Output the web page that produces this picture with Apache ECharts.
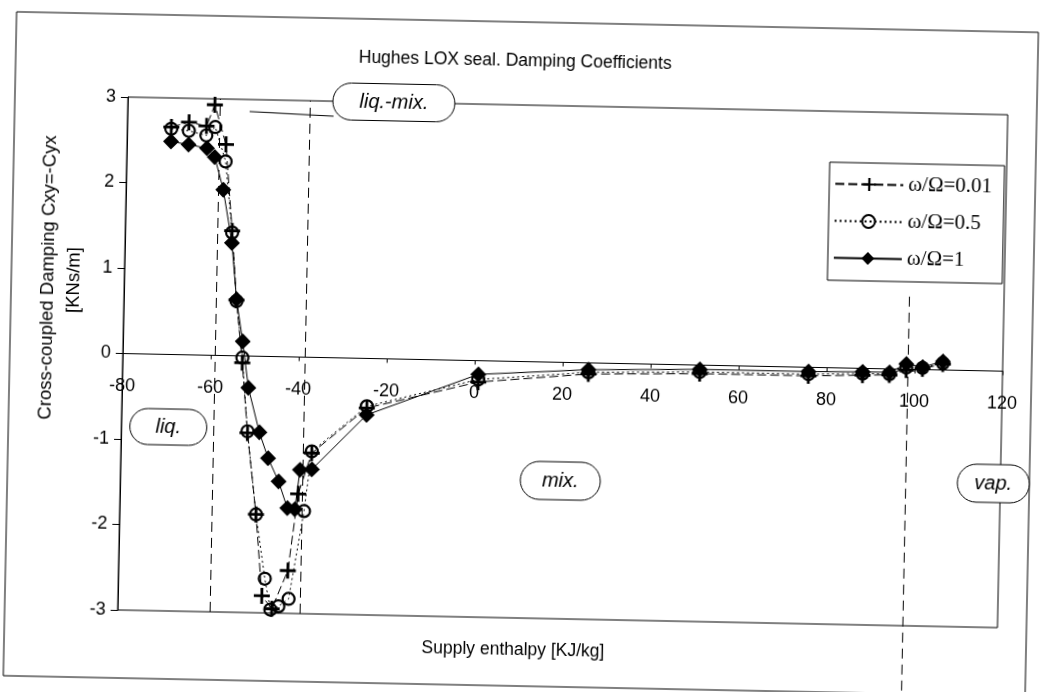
<!DOCTYPE html>
<html>
<head>
<meta charset="utf-8">
<script src="https://cdn.jsdelivr.net/npm/echarts@6.0.0/dist/echarts.min.js"></script>
<style>
  html, body { margin: 0; padding: 0; background: #fff; overflow: hidden; }
  /* the scanned figure is slightly tilted */
  #chart { width: 1040px; height: 692px; transform: rotate(1.15deg); transform-origin: 520px 346px; }
</style>
</head>
<body>
<div id="chart"></div>
<script>
// omega/Omega = 0.01
const enthalpy001 = [-70, -66, -62, -60.2, -57.5, -55.7, -54.4, -52.8, -51.3, -49, -47.3, -45, -41.5, -39.5, -36.6, -24.3, 0.9, 25.9, 51.2, 75.9, 88.2, 94.3, 98.1, 101.8, 106.4];
const cxy001 = [2.66, 2.72, 2.68, 2.93, 2.47, 1.46, 0.65, -0.08, -0.9, -1.85, -2.8, -2.95, -2.5, -1.6, -1.12, -0.58, -0.25, -0.13, -0.1, -0.1, -0.08, -0.07, -0.01, 0.01, 0.07];
// omega/Omega = 0.5
const enthalpy05 = [-70, -66, -62, -60, -57.5, -55.7, -54.4, -52.8, -51.3, -49, -46.7, -45.3, -43.5, -41.2, -38.1, -36.6, -24.3, 0.9, 25.9, 51.2, 75.9, 88.2, 94.3, 98.1, 101.8, 106.4];
const cxy05 = [2.64, 2.62, 2.57, 2.67, 2.27, 1.44, 0.64, -0.02, -0.88, -1.85, -2.6, -2.96, -2.92, -2.83, -1.8, -1.1, -0.56, -0.22, -0.11, -0.08, -0.08, -0.06, -0.06, 0.02, 0.02, 0.08];
// omega/Omega = 1
const enthalpy1 = [-70, -66, -61.8, -60, -57.9, -55.7, -54.4, -52.8, -51.3, -48.6, -46.5, -44, -41.9, -40.2, -39.2, -36.5, -24.3, 0.9, 25.9, 51.2, 75.9, 88.2, 94.3, 98.1, 101.8, 106.4];
const cxy1 = [2.49, 2.46, 2.42, 2.32, 1.94, 1.32, 0.66, 0.17, -0.37, -0.89, -1.19, -1.46, -1.77, -1.78, -1.32, -1.31, -0.66, -0.16, -0.08, -0.05, -0.05, -0.04, -0.04, 0.06, 0.03, 0.10];

const seriesNames = ['ω/Ω=0.01', 'ω/Ω=0.5', 'ω/Ω=1'];
const xTicks = [-80, 120, 20];   // min, max, step
const yTicks = [-3, 3, 1];
// phase boundaries drawn as dashed lines
const boundaryLiqMix = -59;
const boundaryMix = -38.5;
const boundaryVap = 98.5;
const vapLineTop = 0.85;
const vapLineBottom = -3.8;   // runs out below the plot box

function pairs(xs, ys) {
  return xs.map((x, i) => [x, ys[i]]);
}

const plusPath = 'path://M0,6.6H16V9.4H0Z M6.6,0H9.4V16H6.6Z';
const font = '"Liberation Sans", Arial, sans-serif';
const dash = [10, 6];

// grid box, the x axis sits on y = 0 in the middle of it
const gridTop = 105, gridBottom = 74, gridH = 692 - gridTop - gridBottom;

function bubble(cx, cy, w, h, label) {
  return {
    type: 'group',
    z: 50,
    children: [
      { type: 'rect', shape: { x: cx - w / 2, y: cy - h / 2, width: w, height: h, r: h / 2 },
        style: { fill: '#fff', stroke: '#000', lineWidth: 1 } },
      { type: 'text', x: cx, y: cy,
        style: { text: label, font: 'italic 20px ' + font, fill: '#000', align: 'center', verticalAlign: 'middle' } }
    ]
  };
}

let myChart = echarts.init(document.getElementById('chart'));
let option = {
  animation: false,
  backgroundColor: '#fff',
  title: {
    text: 'Hughes LOX seal. Damping Coefficients',
    left: 348,
    top: 47,
    textStyle: { fontFamily: font, fontSize: 17.5, fontWeight: 'normal', color: '#000' }
  },
  grid: {
    left: 123, top: gridTop, right: 37, bottom: gridBottom,
    show: true, borderColor: '#000', borderWidth: 1
  },
  legend: {
    left: 826, top: 156,
    orient: 'vertical',
    data: seriesNames,
    itemWidth: 68, itemHeight: 16, itemGap: 16,
    padding: [11, 12, 12, 5],
    borderColor: '#000', borderWidth: 1,
    backgroundColor: '#fff',
    textStyle: { fontFamily: '"Liberation Serif", "Times New Roman", serif', fontSize: 21, color: '#000' }
  },
  xAxis: {
    type: 'value',
    min: xTicks[0], max: xTicks[1], interval: xTicks[2],
    position: 'bottom',
    offset: -gridH / 2,
    axisLine: { onZero: false, lineStyle: { color: '#000', width: 1 } },
    axisTick: { show: true, length: 4, lineStyle: { color: '#000' } },
    axisLabel: { margin: 24, fontFamily: font, fontSize: 18, color: '#000' },
    splitLine: { show: false }
  },
  yAxis: {
    type: 'value',
    min: yTicks[0], max: yTicks[1], interval: yTicks[2],
    axisLine: { show: true, onZero: false, lineStyle: { color: '#000', width: 1 } },
    axisTick: { show: true, length: 7, lineStyle: { color: '#000' } },
    axisLabel: { margin: 12, fontFamily: font, fontSize: 18, color: '#000' },
    splitLine: { show: false }
  },
  series: [
    {
      name: seriesNames[0],
      type: 'line',
      data: pairs(enthalpy001, cxy001),
      symbol: plusPath,
      symbolSize: 16,
      itemStyle: { color: '#000' },
      lineStyle: { color: '#000', width: 1, type: [9, 4] },
      z: 3
    },
    {
      name: seriesNames[1],
      type: 'line',
      data: pairs(enthalpy05, cxy05),
      symbol: 'circle',
      symbolSize: 12,
      itemStyle: { color: 'rgba(255,255,255,0)', borderColor: '#000', borderWidth: 2.2 },
      lineStyle: { color: '#000', width: 1, type: [2, 3] },
      z: 4
    },
    {
      name: seriesNames[2],
      type: 'line',
      data: pairs(enthalpy1, cxy1),
      symbol: 'diamond',
      symbolSize: 16,
      itemStyle: { color: '#000' },
      lineStyle: { color: '#000', width: 1, type: 'solid' },
      z: 5,
      markLine: {
        silent: true,
        symbol: ['none', 'none'],
        label: { show: false },
        lineStyle: { color: '#000', width: 1, type: dash },
        data: [
          { xAxis: boundaryLiqMix },
          { xAxis: boundaryMix }
        ]
      }
    }
  ],
  graphic: [
    { type: 'rect', shape: { x: 10, y: 22, width: 1022, height: 664 },
      style: { fill: 'none', stroke: '#000', lineWidth: 1 }, z: 0 },
    { type: 'text', x: 47, y: 287, rotation: Math.PI / 2,
      style: { text: 'Cross-coupled Damping Cxy=-Cyx', font: '18.5px ' + font, fill: '#000', align: 'center', verticalAlign: 'middle' } },
    { type: 'text', x: 73, y: 289, rotation: Math.PI / 2,
      style: { text: '[KNs/m]', font: '18.5px ' + font, fill: '#000', align: 'center', verticalAlign: 'middle' } },
    { type: 'text', x: 519, y: 650,
      style: { text: 'Supply enthalpy [KJ/kg]', font: '17.5px ' + font, fill: '#000', align: 'center', verticalAlign: 'middle' } },
    { type: 'line', shape: { x1: 245, y1: 117, x2: 329, y2: 120 },
      style: { stroke: '#000', lineWidth: 1 }, z: 49 },
    bubble(389, 105, 122, 37, 'liq.-mix.'),
    bubble(170, 434, 77, 36, 'liq.'),
    bubble(563, 480, 80, 38, 'mix.'),
    bubble(996, 474, 72, 38, 'vap.')
  ]
};
myChart.setOption(option);

// vapour boundary: starts under the legend and runs past the plot box,
// markLine drops points outside the axis range so place it through the scales
let vapTop = myChart.convertToPixel({ gridIndex: 0 }, [boundaryVap, vapLineTop]);
let vapBottom = myChart.convertToPixel({ gridIndex: 0 }, [boundaryVap, vapLineBottom]);
option.graphic.push({
  type: 'line',
  shape: { x1: vapTop[0], y1: vapTop[1], x2: vapBottom[0], y2: vapBottom[1] },
  style: { stroke: '#000', lineWidth: 1, lineDash: dash },
  z: 1
});
myChart.setOption(option, true);
</script>
</body>
</html>
